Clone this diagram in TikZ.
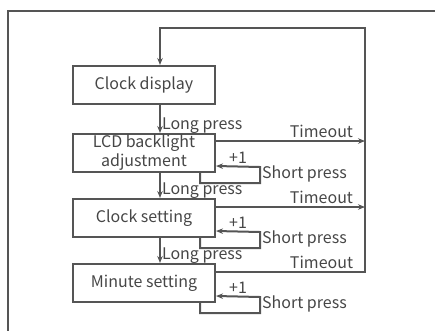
\documentclass[tikz,border=0pt]{standalone}
\usepackage{fontspec}
\setmainfont{Noto Sans CJK SC}
\usepackage{xcolor}
\definecolor{lineGray}{RGB}{85, 85, 85}
\definecolor{textGray}{RGB}{70, 70, 70}
\usetikzlibrary{arrows.meta, positioning, calc}

\begin{document}
\begin{tikzpicture}[x=1pt, y=-1pt,
    every node/.style={font=\fontsize{16}{19}\selectfont, text=textGray},
    state/.style={draw=lineGray, line width=2pt, minimum width=142pt, minimum height=38pt, inner sep=1pt, align=center},
    flow/.style={draw=lineGray, line width=2pt},
    arr/.style={flow, -{Stealth[length=7pt, width=5.5pt]}}]
    \useasboundingbox (0,0) rectangle (435,330);
    % frame
    \draw[lineGray, line width=1.6pt] (8,335) -- (8,11) -- (440,11);
    % states
    \node[state] (disp) at (144,85) {Clock display};
    \node[state] (lcd) at (144,153) {LCD backlight\\adjustment};
    \node[state] (hour) at (144,218) {Clock setting};
    \node[state] (minu) at (144,283) {Minute setting};
    \coordinate (bus) at (365,28);
    % long press
    \draw[arr] ([xshift=16pt]disp.south) -- ([xshift=16pt]lcd.north) node[above right, inner sep=0pt, xshift=1pt, yshift=-1pt] (lp1) {Long press};
    \draw[arr] ([xshift=16pt]lcd.south) -- ([xshift=16pt]hour.north) node[above right, inner sep=0pt, xshift=1pt, yshift=-1pt] (lp2) {Long press};
    \draw[arr] ([xshift=16pt]hour.south) -- ([xshift=16pt]minu.north) node[above right, inner sep=0pt, xshift=1pt, yshift=-1pt] (lp3) {Long press};
    % timeout
    \draw[arr] ([yshift=12pt]lcd.east) -- ([yshift=12pt]lcd.east -| bus) node[above left, inner sep=2pt, xshift=-9pt] (to1) {Timeout};
    \draw[arr] ([yshift=11pt]hour.east) -- ([yshift=11pt]hour.east -| bus) node[above left, inner sep=2pt, xshift=-9pt] (to2) {Timeout};
    \draw[arr] ([yshift=11pt]minu.east) -| (bus) node[pos=0.47, above left, inner sep=2pt] (to3) {Timeout} -| ([xshift=16pt]disp.north);
    % short press loops
    \foreach \s/\n in {lcd/1, hour/2, minu/3} {
        \draw[arr] ([xshift=56pt]\s.south) -- ++(0,10) -| ++(60,-16) coordinate (sp\n) -- ([yshift=-13pt]\s.east);
        \node[above, inner sep=3pt] (inc\n) at ($([yshift=-13pt]\s.east)!0.5!(sp\n)$) {+1};
        \node[right, inner sep=2pt] (spl\n) at ($(sp\n)+(0,7)$) {Short press};
    }
\end{tikzpicture}
\end{document}
